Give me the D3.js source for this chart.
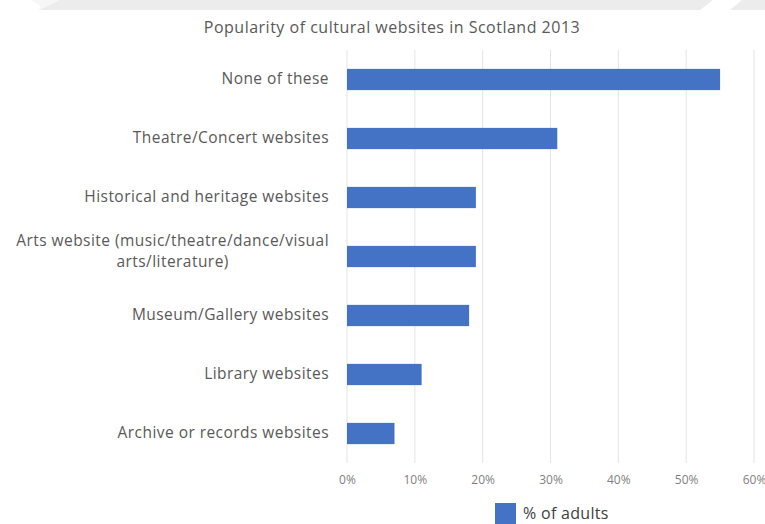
<!DOCTYPE html>
<html>
<head>
<meta charset="utf-8">
<script src="https://cdn.jsdelivr.net/npm/d3@7"></script>
<style>
  html, body { margin: 0; padding: 0; background: #ffffff; }
  svg { display: block; }
</style>
</head>
<body>
<svg id="chart" width="765" height="524"></svg>
<script>
// Survey categories, top to bottom
const categories = [
  "None of these",
  "Theatre/Concert websites",
  "Historical and heritage websites",
  "Arts website (music/theatre/dance/visual arts/literature)",
  "Museum/Gallery websites",
  "Library websites",
  "Archive or records websites"
];
// Share of adults visiting each kind of site (%)
const percentAdults = [55, 31, 19, 19, 18, 11, 7];
const tickValues = [0, 10, 20, 30, 40, 50, 60];
const chartTitle = "Popularity of cultural websites in Scotland 2013";
const seriesName = "% of adults";

const svg = d3.select("#chart");
const W = 765, H = 524;
const margin = { top: 50, right: 11, bottom: 61, left: 347 };
const fontFamily = "'Open Sans', sans-serif";

// Faint band along the top edge
const band = svg.append("g");
band.append("rect").attr("x", 0).attr("y", 0).attr("width", W).attr("height", 10).attr("fill", "#ececec");
band.append("path").attr("d", "M0,0 L60,0 Q50,5 40,10 L0,10 Z").attr("fill", "#f6f6f6");
band.append("path").attr("d", "M0,0 L30,0 Q45,6 38,10 L0,10 Z").attr("fill", "#ffffff");
band.append("path").attr("d", "M700,10 L713,0 L742,0 L730,10 Z").attr("fill", "#ffffff");

const data = categories.map((c, i) => ({ category: c, value: percentAdults[i] }));

const x = d3.scaleLinear().domain([0, 60]).range([margin.left, W - margin.right]);
const y = d3.scaleBand().domain(categories).range([margin.top, H - margin.bottom]).paddingInner(0.64).paddingOuter(0.32);

// Vertical gridlines
svg.append("g")
  .selectAll("line")
  .data(tickValues)
  .join("line")
  .attr("x1", d => x(d)).attr("x2", d => x(d))
  .attr("y1", margin.top).attr("y2", H - margin.bottom)
  .attr("stroke", "#e4e4e4").attr("stroke-width", 1);

// Bars
svg.append("g")
  .selectAll("rect")
  .data(data)
  .join("rect")
  .attr("x", x(0))
  .attr("y", d => y(d.category))
  .attr("width", d => x(d.value) - x(0))
  .attr("height", y.bandwidth())
  .attr("fill", "#4472c4");

// Percentage axis
const xAxis = d3.axisBottom(x).tickValues(tickValues).tickFormat(d => d + "%").tickSize(0).tickPadding(0);
const gx = svg.append("g")
  .attr("transform", `translate(0,${H - margin.bottom + 12})`)
  .call(xAxis);
gx.select(".domain").remove();
gx.selectAll("text").attr("font-family", fontFamily).attr("font-size", 12).attr("fill", "#7f7f7f");

// Category labels, wrapped where needed
const labelLines = {
  "Arts website (music/theatre/dance/visual arts/literature)": ["Arts website (music/theatre/dance/visual", "arts/literature)"]
};
const pad = 18;
const yAxis = d3.axisLeft(y).tickSize(0).tickPadding(pad);
const gy = svg.append("g").attr("transform", `translate(${margin.left},0)`).call(yAxis);
gy.select(".domain").remove();
gy.selectAll("text")
  .attr("font-family", fontFamily).attr("font-size", 15.5).attr("letter-spacing", 0.45).attr("fill", "#595959")
  .each(function(d) {
    const lines = labelLines[d];
    if (!lines) return;
    const t = d3.select(this).text(null);
    lines.forEach((ln, i) => {
      t.append("tspan")
        .attr("x", -pad)
        .attr("dy", i === 0 ? "-0.68em" : "1.36em")
        .attr("text-anchor", i === 0 ? "end" : "middle")
        .text(ln);
    });
  });
// centre the second line under the first
gy.selectAll("text").each(function() {
  const tspans = d3.select(this).selectAll("tspan").nodes();
  if (tspans.length === 2) {
    const w = tspans[0].getComputedTextLength();
    d3.select(tspans[1]).attr("x", -pad - w / 2);
  }
});

// Title
svg.append("text")
  .attr("x", 392).attr("y", 33)
  .attr("text-anchor", "middle")
  .attr("font-family", fontFamily).attr("font-size", 16).attr("letter-spacing", 0.5).attr("fill", "#595959")
  .text(chartTitle);

// Legend
const legend = svg.append("g").attr("transform", "translate(495,503)");
legend.append("rect").attr("width", 21).attr("height", 21).attr("fill", "#4472c4");
legend.append("text").attr("x", 28).attr("y", 16)
  .attr("font-family", fontFamily).attr("font-size", 16).attr("letter-spacing", 0.3).attr("fill", "#404040")
  .text(seriesName);
</script>
</body>
</html>
